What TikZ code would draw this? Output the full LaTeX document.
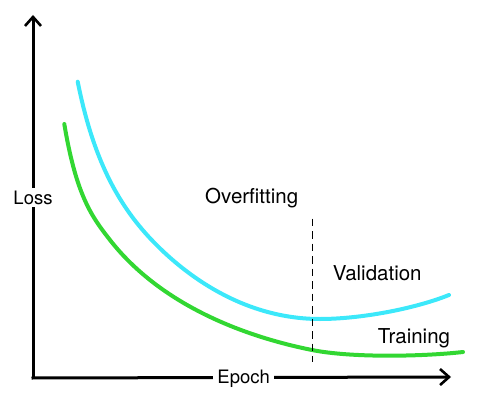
\documentclass[tikz,border=0pt]{standalone}
\usepackage{fontspec}
\setmainfont{TeX Gyre Heros}
\usetikzlibrary{arrows.meta}
\definecolor{valcyan}{RGB}{60,232,250}
\definecolor{traingreen}{RGB}{50,215,50}
\begin{document}
\begin{tikzpicture}[x=1pt,y=-1pt,
  axis/.style={line width=3pt,-{Straight Barb[length=9pt,width=16pt,line width=2.6pt]}},
  curve/.style={line width=4pt,line cap=round},
  axlabel/.style={fill=white,inner xsep=4pt,inner ysep=3pt,font=\fontsize{18.5}{20}\selectfont,anchor=base},
  lbl/.style={inner sep=0pt,font=\fontsize{20.5}{22}\selectfont,anchor=base}]
\useasboundingbox (0,0) rectangle (487,401);
\coordinate (origin) at (33,378);
\coordinate (ytip) at (33,15);
\coordinate (xtip) at (451,377);
\draw[axis] (origin) -- (ytip);
\draw[axis] ([xshift=-1.5pt]origin) -- (xtip);
\node[axlabel] (loss) at (33,204) {Loss};
\node[axlabel] (epoch) at (243.7,383) {Epoch};
\coordinate (dtop) at (312.5,218.5);
\coordinate (dbot) at (312.5,362);
% validation curve
\draw[curve,valcyan] (77.7,81.7) .. controls (92.7,156.7) and (116.7,203.25) .. (151.7,240)
  .. controls (191.7,282) and (250,319) .. (320,319)
  .. controls (360,319) and (414,309) .. (449,295);
% training curve
\draw[curve,traingreen] (64.3,124) .. controls (76.3,196) and (92,217) .. (110,240)
  .. controls (160,304) and (242,336) .. (312,350)
  .. controls (352,358) and (423,356.5) .. (463,352);
\draw[line width=1.9pt,dash pattern=on 7.5pt off 5pt] (dtop) -- (dbot);
\node[lbl] (over) at (251.7,203.3) {Overfitting};
\node[lbl] (val) at (377.2,280) {Validation};
\node[lbl] (train) at (414,343.3) {Training};
\end{tikzpicture}
\end{document}
